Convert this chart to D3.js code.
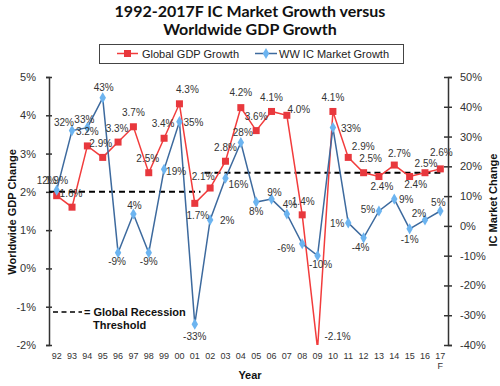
<!DOCTYPE html>
<html><head><meta charset="utf-8">
<script src="https://cdn.jsdelivr.net/npm/d3@7"></script>
<style>body{margin:0;background:#fff}svg{display:block}</style>
</head><body>
<svg id="chart" width="500" height="386"></svg>
<script>
// ---- data ----
const years = ["92","93","94","95","96","97","98","99","00","01","02","03","04","05","06","07","08","09","10","11","12","13","14","15","16","17"];
const gdpGrowth = [1.9,1.6,3.2,2.9,3.3,3.7,2.5,3.4,4.3,1.7,2.1,2.8,4.2,3.6,4.1,4.0,1.4,-2.1,4.1,2.9,2.5,2.4,2.7,2.4,2.5,2.6];
const icGrowth = [12,32,33,43,-9,4,-9,19,35,-33,2,16,28,8,9,4,-6,-10,33,1,-4,5,9,-1,2,5];
const recessionThreshold = [2,2,2,2,2,2,2,2,2,2,2.5,2.5,2.5,2.5,2.5,2.5,2.5,2.5,2.5,2.5,2.5,2.5,2.5,2.5,2.5,2.5];
const leftTicks = [-2,-1,0,1,2,3,4,5];
const rightTicks = [-40,-30,-20,-10,0,10,20,30,40,50];
const seriesNames = ["Global GDP Growth","WW IC Market Growth"];

// ---- label placement (layout only) ----
const gdpLabelOffset = [[0,-15],[-1,-14],[0,-14],[-2,-14],[-1,-14],[0,-14],[-1,-14],[-1,-15],[8,-14],[3,12],[-7,-12],[0,-14],[0,-15],[0,-14],[0,-14],[12,-6],[1,-13],[20,-12],[0,-14],[15,-11],[7,-14],[3,10],[5,-12],[6,8],[1,-9],[1,-16]];
const icLabelOffset = [[-10,-10],[-8,-8],[-3,-8],[1,-10],[-1,9],[1,-8],[0,9],[12,2],[14,1],[0,12],[17,1],[13,6],[2,-10],[0,9],[3,-7],[3,-9],[-16,5],[3,9],[18,1],[-11,1],[-3,10],[-11,-2],[12,0],[0,11],[-6,-6],[-2,-9]];

const svg = d3.select("#chart");
const L = 49, R = 448, T = 77, B = 345;

const x = d3.scaleBand().domain(years).range([L, R]);
const xc = d => x(d) + x.bandwidth()/2;
const yL = d3.scaleLinear().domain([-2,5]).range([B, T]);
const yR = d3.scaleLinear().domain([-40,50]).range([B, T]);

const labelFont = "Liberation Sans, Arial, sans-serif";

// title
svg.append("text").attr("x",250).attr("y",16.5).attr("text-anchor","middle")
  .style("font-family","Lato, sans-serif").style("font-weight","700").style("font-size","16px").attr("fill","#111")
  .text("1992-2017F IC Market Growth versus");
svg.append("text").attr("x",250).attr("y",35).attr("text-anchor","middle")
  .style("font-family","Lato, sans-serif").style("font-weight","700").style("font-size","16px").attr("fill","#111")
  .text("Worldwide GDP Growth");

// legend
const lg = svg.append("g");
lg.append("rect").attr("x",99.5).attr("y",44.5).attr("width",304).attr("height",19).attr("fill","#fff").attr("stroke","#444").attr("stroke-width",1);
lg.append("line").attr("x1",117).attr("x2",138).attr("y1",53.5).attr("y2",53.5).attr("stroke","#f23c3c").attr("stroke-width",1.5);
lg.append("rect").attr("x",124).attr("y",50).attr("width",7).attr("height",7).attr("fill","#e8383d");
lg.append("text").attr("x",142).attr("y",57.5).style("font-family",labelFont).style("font-size","11px").attr("fill","#222").text(seriesNames[0]);
lg.append("line").attr("x1",255).attr("x2",277).attr("y1",53.5).attr("y2",53.5).attr("stroke","#3d6a9e").attr("stroke-width",1.5);
lg.append("path").attr("transform","translate(266,53.5)").attr("d",d3.symbol().type(d3.symbolDiamond).size(36)()).attr("fill","#6cb4f0");
lg.append("text").attr("x",279).attr("y",57.5).style("font-family",labelFont).style("font-size","11px").attr("fill","#222").text(seriesNames[1]);

// axes
const axL = svg.append("g").attr("transform",`translate(${L},0)`)
  .call(d3.axisLeft(yL).tickValues(leftTicks).tickFormat(d => d + "%").tickSizeOuter(0).tickSize(3).tickPadding(10));
const axR = svg.append("g").attr("transform",`translate(${R},0)`)
  .call(d3.axisRight(yR).tickValues(rightTicks).tickFormat(d => d + "%").tickSizeOuter(0).tickSize(4).tickPadding(8));
[axL, axR].forEach(a => {
  a.select(".domain").attr("stroke","#333").attr("stroke-width",1.5);
  a.selectAll(".tick line").attr("stroke","#333").attr("stroke-width",1.5);
  a.selectAll(".tick text").style("font-family",labelFont).style("font-size","11px").attr("fill","#333");
});
axL.selectAll(".tick line").attr("x1",3);
axR.selectAll(".tick line").attr("x1",-4);

// x tick labels
const axB = svg.append("g").attr("transform",`translate(0,${B})`)
  .call(d3.axisBottom(x).tickSize(0).tickPadding(8));
axB.select(".domain").remove();
axB.selectAll(".tick text").style("font-family",labelFont).style("font-size","9px").attr("fill","#333");
svg.append("text").attr("x",xc("17")).attr("y",369).attr("text-anchor","middle")
  .style("font-family",labelFont).style("font-size","9px").attr("fill","#333").text("F");

// axis titles
const boldFont = "Liberation Sans, Arial, sans-serif";
svg.append("text").attr("x",250).attr("y",379).attr("text-anchor","middle")
  .style("font-family",boldFont).style("font-weight","700").style("font-size","11px").attr("fill","#111").text("Year");
svg.append("text").attr("transform","translate(16,212) rotate(-90)").attr("text-anchor","middle")
  .style("font-family",boldFont).style("font-weight","700").style("font-size","11px").attr("fill","#111").text("Worldwide GDP Change");
svg.append("text").attr("transform","translate(497,200) rotate(-90)").attr("text-anchor","middle")
  .style("font-family",boldFont).style("font-weight","700").style("font-size","11px").attr("fill","#111").text("IC Market Change");

// clip
svg.append("defs").append("clipPath").attr("id","plot").append("rect")
  .attr("x",L).attr("y",T).attr("width",R-L).attr("height",B-T);
const plot = svg.append("g").attr("clip-path","url(#plot)");

// recession threshold (two levels)
const thrSegs = d3.groups(years.map((y,i)=>({y, v:recessionThreshold[i], i})), d => d.v);
thrSegs.forEach(([v, pts], k) => {
  const first = pts[0].i, last = pts[pts.length-1].i;
  const x1 = first === 0 ? L : (xc(years[first-1]) + xc(years[first]))/2 + 2;
  const x2 = last === years.length-1 ? xc(years[last]) : (xc(years[last]) + xc(years[last+1]))/2 - 2;
  plot.append("line").attr("x1",x1).attr("x2",x2).attr("y1",yL(v)).attr("y2",yL(v))
    .attr("stroke","#000").attr("stroke-width",2).attr("stroke-dasharray","6,4");
});

// GDP series
const gdpData = years.map((y,i)=>({y, v:gdpGrowth[i], i}));
const icData = years.map((y,i)=>({y, v:icGrowth[i], i}));
plot.append("path").datum(gdpData)
  .attr("d", d3.line().x(d=>xc(d.y)).y(d=>yL(d.v)))
  .attr("fill","none").attr("stroke","#f23c3c").attr("stroke-width",1.5);
plot.selectAll(".gdpm").data(gdpData).join("rect").attr("class","gdpm")
  .attr("x",d=>xc(d.y)-3.5).attr("y",d=>yL(d.v)-3.5).attr("width",7).attr("height",7).attr("fill","#e8383d");

// IC series
plot.append("path").datum(icData)
  .attr("d", d3.line().x(d=>xc(d.y)).y(d=>yR(d.v)))
  .attr("fill","none").attr("stroke","#3d6a9e").attr("stroke-width",1.5);
plot.selectAll(".icm").data(icData).join("path").attr("class","icm")
  .attr("transform",d=>`translate(${xc(d.y)},${yR(d.v)})`)
  .attr("d",d3.symbol().type(d3.symbolDiamond).size(36)()).attr("fill","#6cb4f0");

// data labels
svg.selectAll(".gdpl").data(gdpData).join("text").attr("class","gdpl")
  .attr("x",d=>xc(d.y)+gdpLabelOffset[d.i][0]).attr("y",d=>yL(d.v)+gdpLabelOffset[d.i][1]+3.5)
  .attr("text-anchor","middle").style("font-family",labelFont).style("font-size","10px").attr("fill","#333")
  .text(d=>d.v.toFixed(1)+"%");
svg.selectAll(".icl").data(icData).join("text").attr("class","icl")
  .attr("x",d=>xc(d.y)+icLabelOffset[d.i][0]).attr("y",d=>yR(d.v)+icLabelOffset[d.i][1]+3.5)
  .attr("text-anchor","middle").style("font-family",labelFont).style("font-size","10px").attr("fill","#333")
  .text(d=>d.v+"%");

// threshold note
svg.append("line").attr("x1",53).attr("x2",82).attr("y1",312).attr("y2",312)
  .attr("stroke","#000").attr("stroke-width",1.5).attr("stroke-dasharray","5,3.5");
svg.append("text").attr("x",84).attr("y",316).style("font-family",boldFont).style("font-weight","700").style("font-size","11px").attr("fill","#111").text("= Global Recession");
svg.append("text").attr("x",93).attr("y",329).style("font-family",boldFont).style("font-weight","700").style("font-size","11px").attr("fill","#111").text("Threshold");
</script>
</body></html>
